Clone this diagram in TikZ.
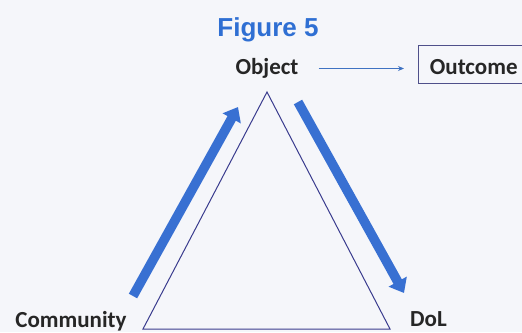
\documentclass[tikz,border=0pt]{standalone}
\usepackage{fontspec}
\usepackage{xcolor}
\usepackage{tikz}
\usetikzlibrary{arrows.meta}
\newfontfamily\labelfont{Carlito}
\newfontfamily\titlefont{Liberation Sans}
\definecolor{figblue}{HTML}{2F6FD3}
\definecolor{fatblue}{HTML}{3870D2}
\definecolor{triline}{HTML}{3A3C8E}
\definecolor{bgcol}{HTML}{F5F6FA}

\begin{document}
\begin{tikzpicture}[x=1pt,y=-1pt,
  lbl/.style={font=\labelfont\bfseries\fontsize{23}{23}\selectfont, text=black!85,
    inner sep=0pt, text height=16pt, text depth=5pt},
  figtitle/.style={font=\titlefont\bfseries\fontsize{26}{26}\selectfont, text=figblue, inner sep=0pt},
  tri/.style={draw=triline, line width=1pt, line join=miter},
  fatarrow/.style={fatblue, line width=9.5pt, -{Triangle[length=13pt,width=20pt]}},
  thinarrow/.style={draw=figblue!80!gray, line width=0.9pt, -{Stealth[length=6pt,width=5pt]}}]
\fill[bgcol] (0,0) rectangle (522,332);
\useasboundingbox (0,0) rectangle (522,332);
\node[figtitle, anchor=base] (title) at (268,36) {Figure 5};
% triangle
\coordinate (apex) at (267,92);
\coordinate (leftcorner) at (143,329);
\coordinate (rightcorner) at (390,329);
\draw[tri] (apex) -- (rightcorner) -- (leftcorner) -- cycle;
% labels
\node[lbl, anchor=base] (object) at (267,74) {Object};
\node[lbl, draw=triline!70!gray, line width=0.8pt, anchor=base west, minimum height=38pt,
  text height=22pt, text depth=2pt, inner xsep=11.5pt, text width=100pt] (outcome) at (418,74) {Outcome};
\node[lbl, anchor=base] (community) at (71,327) {Community};
\node[lbl, anchor=base west] (dol) at (410,326) {DoL};
% big arrows
\coordinate (uptail) at (133,296);
\coordinate (uptip) at (238,107);
\coordinate (downtail) at (298,102);
\coordinate (downtip) at (404,293);
\draw[fatarrow] (uptail) -- (uptip);
\draw[fatarrow] (downtail) -- (downtip);
\draw[thinarrow, shorten <=20pt, shorten >=14pt] (object) -- (object -| outcome.west);
\end{tikzpicture}
\end{document}
